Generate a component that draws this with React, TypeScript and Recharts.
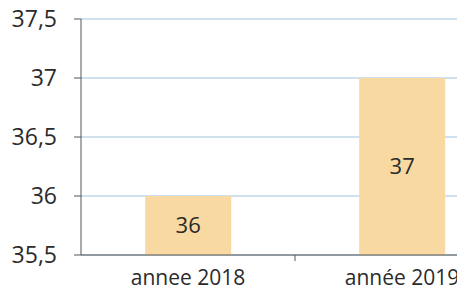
import { BarChart, Bar, XAxis, YAxis, CartesianGrid, LabelList } from 'recharts';

const years = ['annee 2018', 'année 2019'];
const values = [36, 37];
const yTicks = [35.5, 36, 36.5, 37, 37.5];

const data = years.map((year, i) => ({ year, value: values[i] }));

const font = '"Open Sans", sans-serif';
const fmt = (v: number) => String(v).replace('.', ',');

// category label plus an Excel-style divider tick between categories
function YearTick(props: any) {
  const { x, y, payload, index } = props;
  return (
    <g>
      {index === 0 && (
        <line x1={x + payload.offset} x2={x + payload.offset} y1={y - 15} y2={y - 9} stroke="#555" />
      )}
      <text x={x} y={y} dy="0.71em" textAnchor="middle" fill="#2b2b2b" fontSize={21} fontFamily={font}>
        {payload.value}
      </text>
    </g>
  );
}

export default function App() {
  return (
    <div style={{ margin: -8, width: 465, height: 304, overflow: 'hidden', background: '#fff', fontFamily: font }}>
      <BarChart width={510} height={304} data={data} margin={{ top: 19, right: 1, bottom: 0, left: 0 }} barCategoryGap="30%">
        <CartesianGrid vertical={false} stroke="#9fc3dc" />
        <XAxis
          dataKey="year"
          height={49}
          tickLine={false}
          tickSize={6}
          tickMargin={9}
          axisLine={{ stroke: '#555' }}
          tick={<YearTick />}
          interval={0}
        />
        <YAxis
          width={81}
          domain={[35.5, 37.5]}
          ticks={yTicks}
          tickFormatter={fmt}
          tickSize={7}
          tickMargin={17}
          axisLine={{ stroke: '#555' }}
          tickLine={{ stroke: '#555' }}
          tick={{ fill: '#2b2b2b', fontSize: 23, fontFamily: font }}
        />
        <Bar dataKey="value" fill="#f8d9a2" isAnimationActive={false}>
          <LabelList dataKey="value" position="center" fill="#2b2b2b" fontSize={22} fontFamily={font} />
        </Bar>
      </BarChart>
    </div>
  );
}
